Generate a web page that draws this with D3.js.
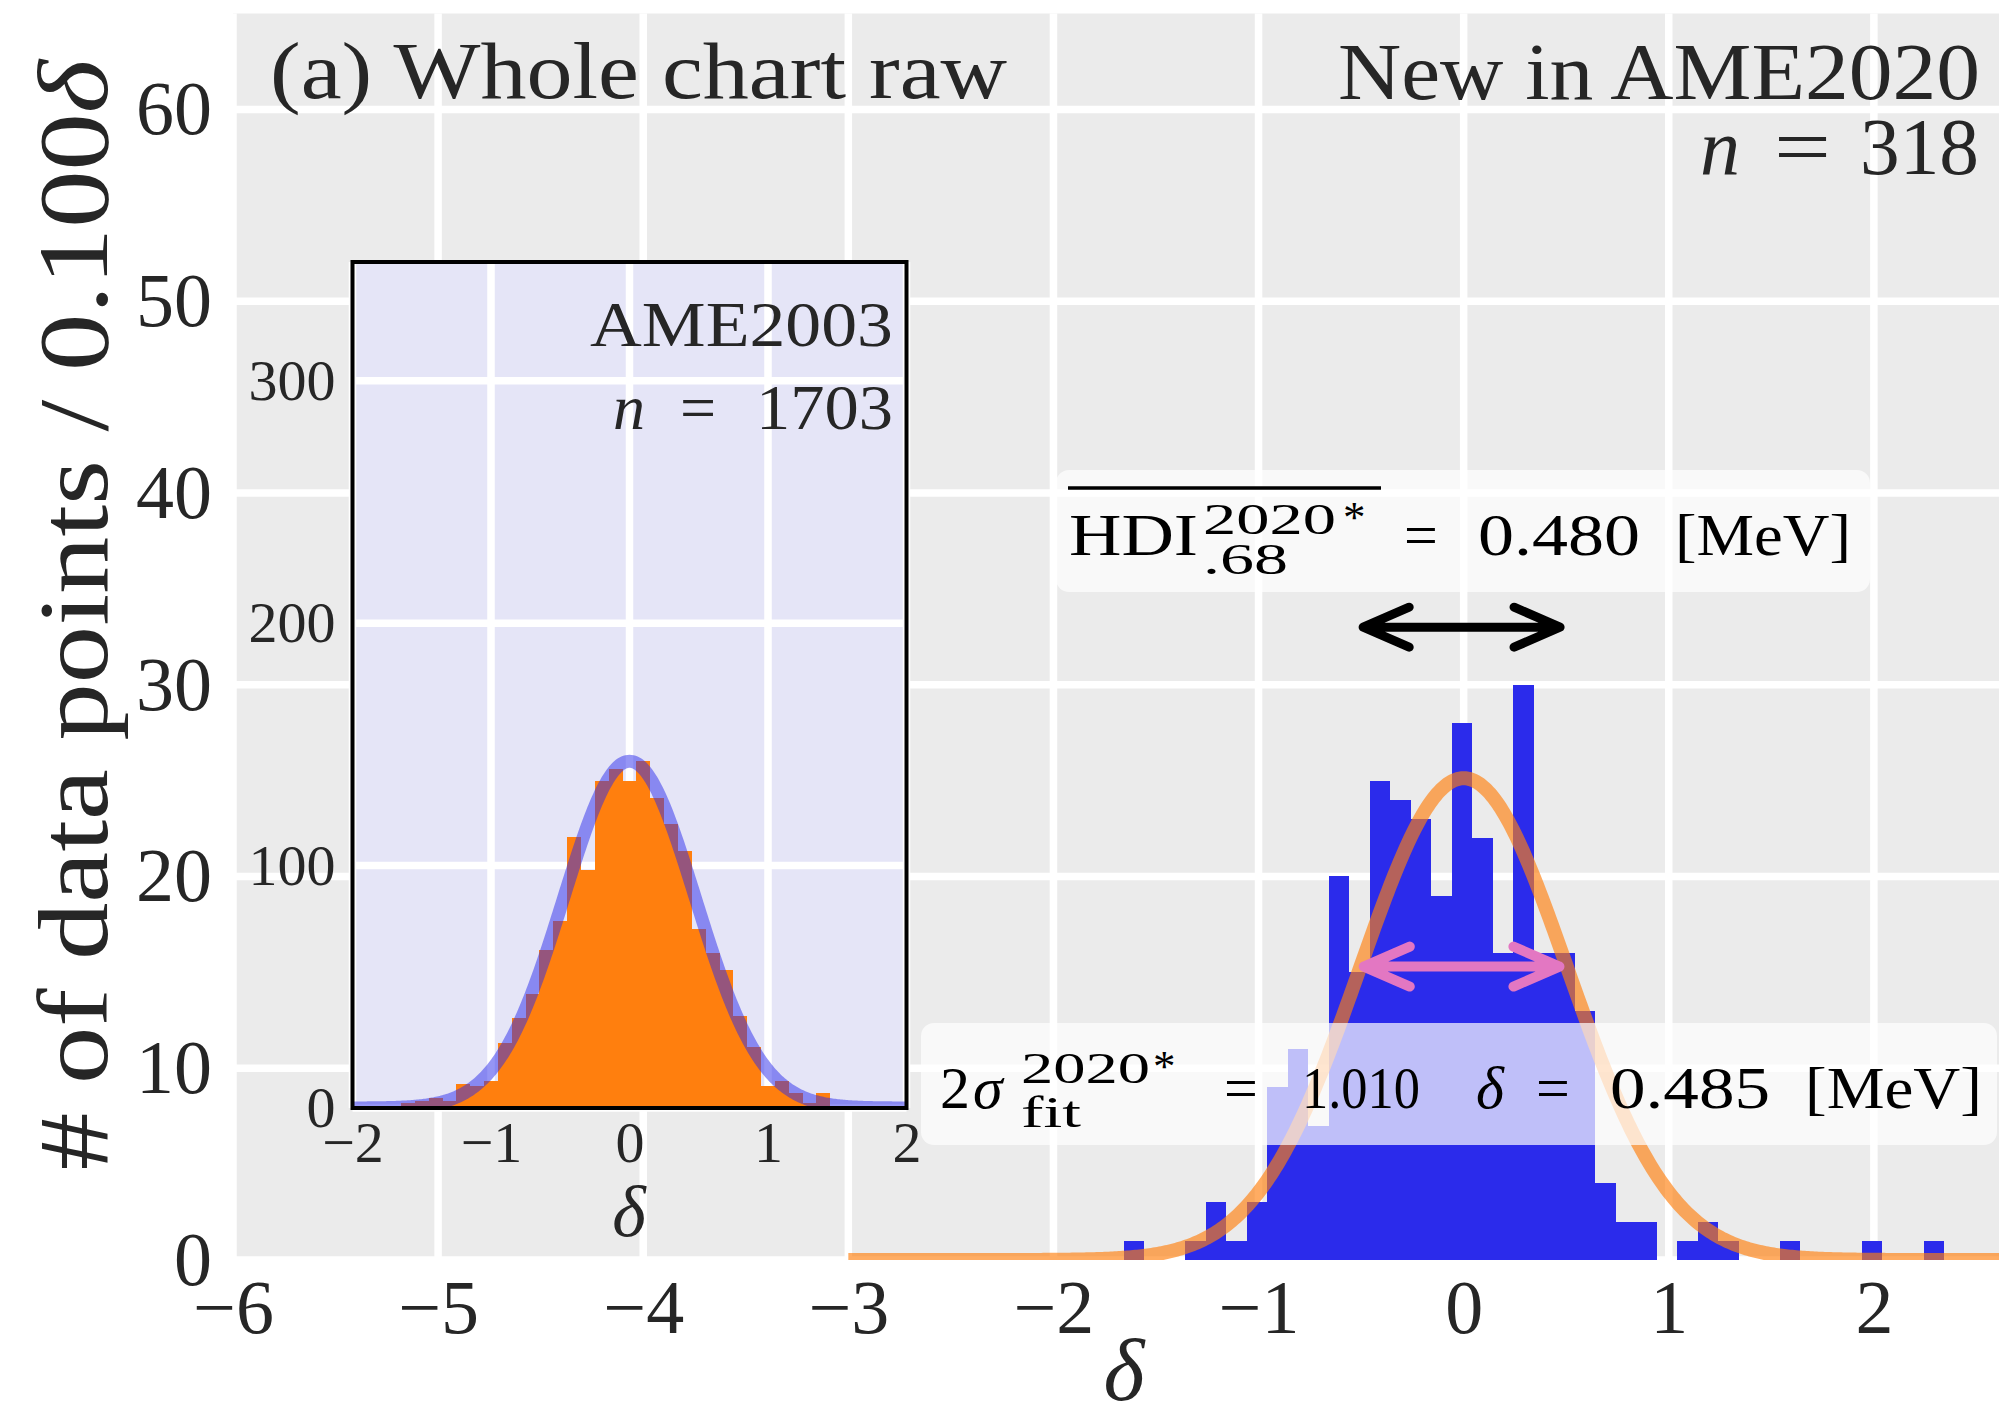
<!DOCTYPE html>
<html>
<head>
<meta charset="utf-8">
<script src="https://cdnjs.cloudflare.com/ajax/libs/d3/7.8.5/d3.min.js"></script>
<style>
  body { margin: 0; background: #fff; }
  svg { display: block; }
  text { font-family: "Liberation Serif", "Times New Roman", serif; }
</style>
</head>
<body>
<svg width="1999" height="1418"></svg>
<script>
// main histogram: "New in AME2020", bins of 0.1 (left edges)
const mainEdges = [-1.658, -1.558, -1.458, -1.358, -1.258, -1.158, -1.058, -0.958, -0.858, -0.758,
                   -0.658, -0.558, -0.458, -0.358, -0.258, -0.158, -0.058, 0.042, 0.142, 0.242,
                   0.342, 0.442, 0.542, 0.642, 0.742, 0.842, 0.942, 1.042, 1.142, 1.242,
                   1.342, 1.442, 1.542, 1.642, 1.742, 1.842, 1.942, 2.042, 2.142, 2.242];
const mainCounts = [1, 0, 0, 1, 3, 1, 3, 9, 11, 7,
                    20, 15, 25, 24, 23, 19, 28, 22, 16, 30,
                    16, 16, 13, 4, 2, 2, 0, 1, 2, 1,
                    0, 0, 1, 0, 0, 0, 1, 0, 0, 1];

// inset histogram: AME2003, bin centres
const insetCenters = [-1.6, -1.5, -1.4, -1.3, -1.2, -1.1, -1.0, -0.9, -0.8, -0.7, -0.6, -0.5, -0.4, -0.3, -0.2, -0.1,
                      0.0, 0.1, 0.2, 0.3, 0.4, 0.5, 0.6, 0.7, 0.8, 0.9, 1.0, 1.1, 1.2, 1.3, 1.4];
const insetCounts = [2, 3, 4, 3, 10, 9, 11, 27, 37, 47, 65, 77, 112, 98, 135, 140,
                     135, 143, 128, 117, 106, 74, 64, 57, 38, 25, 9, 11, 6, 2, 6];

const binWidth = 0.1;
// fitted normal curves
const mainFit = { n: 318, mu: 0, sigma: 0.505, from: -3 };
const insetFit = { n: 1703, mu: 0, sigma: 0.475 };

// arrows (delta range and height in counts)
const hdiArrow = { lo: -0.49, hi: 0.47, level: 33 };
const sigmaArrow = { lo: -0.487, hi: 0.467, level: 15.3 };

const xTicks = [-6, -5, -4, -3, -2, -1, 0, 1, 2];
const yTicks = [0, 10, 20, 30, 40, 50, 60];
const insetXTicks = [-2, -1, 0, 1, 2];
const insetYTicks = [0, 100, 200, 300];

const svg = d3.select('svg');
const ink = '#262626';

const x = d3.scaleLinear().domain([-6, 2.61]).range([233, 1999]);
const y = d3.scaleLinear().domain([0, 65]).range([1260, 13.5]);

const gauss = (f, v) => f.n * binWidth / (f.sigma * Math.sqrt(2 * Math.PI)) *
  Math.exp(-0.5 * ((v - f.mu) / f.sigma) ** 2);

svg.append('clipPath').attr('id', 'mainclip')
  .append('rect').attr('x', 233).attr('y', 13.5).attr('width', 1766).attr('height', 1246.5);

const main = svg.append('g');
main.append('rect')
  .attr('x', 233).attr('y', 13.5).attr('width', 1766).attr('height', 1246.5)
  .attr('fill', '#ebebeb');

// grid
main.selectAll('.vg').data(xTicks).enter().append('line')
  .attr('x1', d => x(d)).attr('x2', d => x(d))
  .attr('y1', 13.5).attr('y2', 1260)
  .attr('stroke', '#fff').attr('stroke-width', 7.5);
main.selectAll('.hg').data(yTicks).enter().append('line')
  .attr('x1', 233).attr('x2', 1999)
  .attr('y1', d => y(d)).attr('y2', d => y(d))
  .attr('stroke', '#fff').attr('stroke-width', 7.5);

// bars
main.selectAll('.bar').data(mainEdges).enter().append('rect')
  .attr('x', d => x(d))
  .attr('width', d => x(d + binWidth) - x(d))
  .attr('y', (d, i) => y(mainCounts[i]))
  .attr('height', (d, i) => y(0) - y(mainCounts[i]))
  .attr('fill', '#2b2beb')
  .attr('shape-rendering', 'crispEdges');

// fitted curve
const mainCurve = d3.range(mainFit.from, 2.7, 0.01).map(v => [v, gauss(mainFit, v)]);
main.append('path')
  .datum(mainCurve)
  .attr('clip-path', 'url(#mainclip)')
  .attr('d', d3.line().x(d => x(d[0])).y(d => y(d[1])))
  .attr('fill', 'none')
  .attr('stroke', '#ff7f0e').attr('stroke-opacity', 0.65)
  .attr('stroke-width', 14);

function arrow(g, a, color, w) {
  const x0 = x(a.lo), x1 = x(a.hi), yy = y(a.level);
  const hl = 46, hw = 20;
  g.append('path')
    .attr('d', `M${x0},${yy}L${x1},${yy}M${x0 + hl},${yy - hw}L${x0},${yy}L${x0 + hl},${yy + hw}` +
               `M${x1 - hl},${yy - hw}L${x1},${yy}L${x1 - hl},${yy + hw}`)
    .attr('fill', 'none').attr('stroke', color).attr('stroke-width', w)
    .attr('stroke-linecap', 'round').attr('stroke-linejoin', 'round');
}

arrow(main, sigmaArrow, '#e377c2', 10);

function piece(g, str, x0, x1, base, size, italic) {
  const t = g.append('text')
    .attr('x', x0).attr('y', base)
    .attr('font-size', size)
    .attr('fill', '#000')
    .text(str);
  if (x1 != null) t.attr('textLength', x1 - x0).attr('lengthAdjust', 'spacingAndGlyphs');
  if (italic) t.attr('font-style', 'italic');
  return t;
}

// sigma box
const sb = main.append('g');
sb.append('rect').attr('x', 921).attr('y', 1023).attr('width', 1076).attr('height', 122)
  .attr('rx', 13).attr('fill', '#fff').attr('fill-opacity', 0.7);
piece(sb, '2', 940, null, 1108, 60);
piece(sb, 'σ', 973, null, 1108, 60, true);
piece(sb, '2020', 1021, 1150, 1083, 45);
piece(sb, '*', 1153, null, 1081, 45);
piece(sb, 'fit', 1021, 1081, 1127, 45);
piece(sb, '=', 1224, null, 1108, 60);
piece(sb, '1.010', 1302, 1420, 1108, 60);
piece(sb, 'δ', 1476, null, 1108, 60, true);
piece(sb, '=', 1536, null, 1108, 60);
piece(sb, '0.485', 1610, 1770, 1108, 60);
piece(sb, '[MeV]', 1805, 1982, 1108, 60);

// HDI box
const hb = main.append('g');
hb.append('rect').attr('x', 1056).attr('y', 470).attr('width', 814).attr('height', 122)
  .attr('rx', 13).attr('fill', '#fff').attr('fill-opacity', 0.7);
hb.append('line').attr('x1', 1068).attr('x2', 1381).attr('y1', 488).attr('y2', 488)
  .attr('stroke', '#000').attr('stroke-width', 3.5);
piece(hb, 'HDI', 1069, 1198, 555, 60);
piece(hb, '2020', 1203, 1336, 534, 45);
piece(hb, '*', 1343, null, 532, 45);
piece(hb, '.68', 1203, 1288, 574, 45);
piece(hb, '=', 1404, null, 555, 60);
piece(hb, '0.480', 1478, 1640, 555, 60);
piece(hb, '[MeV]', 1675, 1851, 555, 60);

arrow(main, hdiArrow, '#000', 9);

// titles
const tt = svg.append('g').attr('fill', ink);
tt.append('text').attr('x', 270).attr('y', 98).attr('font-size', 80)
  .attr('textLength', 737).attr('lengthAdjust', 'spacingAndGlyphs')
  .text('(a) Whole chart raw');
tt.append('text').attr('x', 1338).attr('y', 99).attr('font-size', 80)
  .attr('textLength', 642).attr('lengthAdjust', 'spacingAndGlyphs')
  .text('New in AME2020');
piece(tt, 'n', 1700, null, 174, 80, true).attr('fill', ink);
piece(tt, '=', 1774, 1831, 174, 80).attr('fill', ink);
piece(tt, '318', 1860, 1979, 174, 80).attr('fill', ink);

// main axes
const fmt = d3.format('d');
const xAxis = svg.append('g').attr('transform', 'translate(0,1260)')
  .call(d3.axisBottom(x).tickValues(xTicks).tickSize(0).tickPadding(19).tickFormat(fmt));
const yAxis = svg.append('g').attr('transform', 'translate(233,0)')
  .call(d3.axisLeft(y).tickValues(yTicks).tickSize(0).tickPadding(21).tickFormat(fmt));
[xAxis, yAxis].forEach(a => {
  a.select('.domain').remove();
  a.selectAll('text').attr('font-size', 76).attr('fill', ink)
    .attr('font-family', '"Liberation Serif", serif');
});

svg.append('text')
  .attr('x', 1124).attr('y', 1400)
  .attr('text-anchor', 'middle')
  .attr('font-size', 88).attr('font-style', 'italic').attr('fill', ink)
  .text('δ');

const yl = svg.append('text')
  .attr('transform', 'translate(107,615) rotate(-90)')
  .attr('text-anchor', 'middle')
  .attr('font-size', 100).attr('fill', ink)
  .attr('textLength', 1110).attr('lengthAdjust', 'spacingAndGlyphs');
yl.append('tspan').text('# of data points / 0.100');
yl.append('tspan').attr('font-style', 'italic').text('δ');

// ---------- inset ----------
const xi = d3.scaleLinear().domain([-2, 2]).range([352.5, 906.5]);
const yi = d3.scaleLinear().domain([0, 349]).range([1108, 262]);

svg.append('clipPath').attr('id', 'insetclip')
  .append('rect').attr('x', 352.5).attr('y', 262).attr('width', 554).attr('height', 846);

const ins = svg.append('g');
ins.append('rect').attr('x', 352.5).attr('y', 262).attr('width', 554).attr('height', 846)
  .attr('fill', '#e5e5f7');
ins.selectAll('.ivg').data(insetXTicks).enter().append('line')
  .attr('x1', d => xi(d)).attr('x2', d => xi(d)).attr('y1', 262).attr('y2', 1108)
  .attr('stroke', '#fff').attr('stroke-width', 7.5);
ins.selectAll('.ihg').data(insetYTicks).enter().append('line')
  .attr('x1', 352.5).attr('x2', 906.5).attr('y1', d => yi(d)).attr('y2', d => yi(d))
  .attr('stroke', '#fff').attr('stroke-width', 7.5);

ins.selectAll('.ibar').data(insetCenters).enter().append('rect')
  .attr('x', d => xi(d - binWidth / 2))
  .attr('width', d => xi(d + binWidth / 2) - xi(d - binWidth / 2))
  .attr('y', (d, i) => yi(insetCounts[i]))
  .attr('height', (d, i) => yi(0) - yi(insetCounts[i]))
  .attr('fill', '#ff7f0e')
  .attr('shape-rendering', 'crispEdges');

const insetCurve = d3.range(-2, 2.005, 0.01).map(v => [v, gauss(insetFit, v)]);
ins.append('path')
  .datum(insetCurve)
  .attr('clip-path', 'url(#insetclip)')
  .attr('d', d3.line().x(d => xi(d[0])).y(d => yi(d[1])))
  .attr('fill', 'none')
  .attr('stroke', '#2b2beb').attr('stroke-opacity', 0.5)
  .attr('stroke-width', 13);

ins.append('rect').attr('x', 352.5).attr('y', 262).attr('width', 554).attr('height', 846)
  .attr('fill', 'none').attr('stroke', '#000').attr('stroke-width', 4);

const ixAxis = svg.append('g').attr('transform', 'translate(0,1108)')
  .call(d3.axisBottom(xi).tickValues(insetXTicks).tickSize(0).tickPadding(13).tickFormat(fmt));
const iyAxis = svg.append('g').attr('transform', 'translate(352.5,0)')
  .call(d3.axisLeft(yi).tickValues(insetYTicks).tickSize(0).tickPadding(17).tickFormat(fmt));
[ixAxis, iyAxis].forEach(a => {
  a.select('.domain').remove();
  a.selectAll('text').attr('font-size', 58).attr('fill', ink)
    .attr('font-family', '"Liberation Serif", serif');
});

svg.append('text')
  .attr('x', 629).attr('y', 1236)
  .attr('text-anchor', 'middle')
  .attr('font-size', 72).attr('font-style', 'italic').attr('fill', ink)
  .text('δ');

const it = svg.append('g');
piece(it, 'AME2003', 590, 893, 346, 64).attr('fill', ink);
piece(it, 'n', 613, null, 429, 64, true).attr('fill', ink);
piece(it, '=', 680, null, 429, 64).attr('fill', ink);
piece(it, '1703', 756, 893, 429, 64).attr('fill', ink);
</script>
</body>
</html>
